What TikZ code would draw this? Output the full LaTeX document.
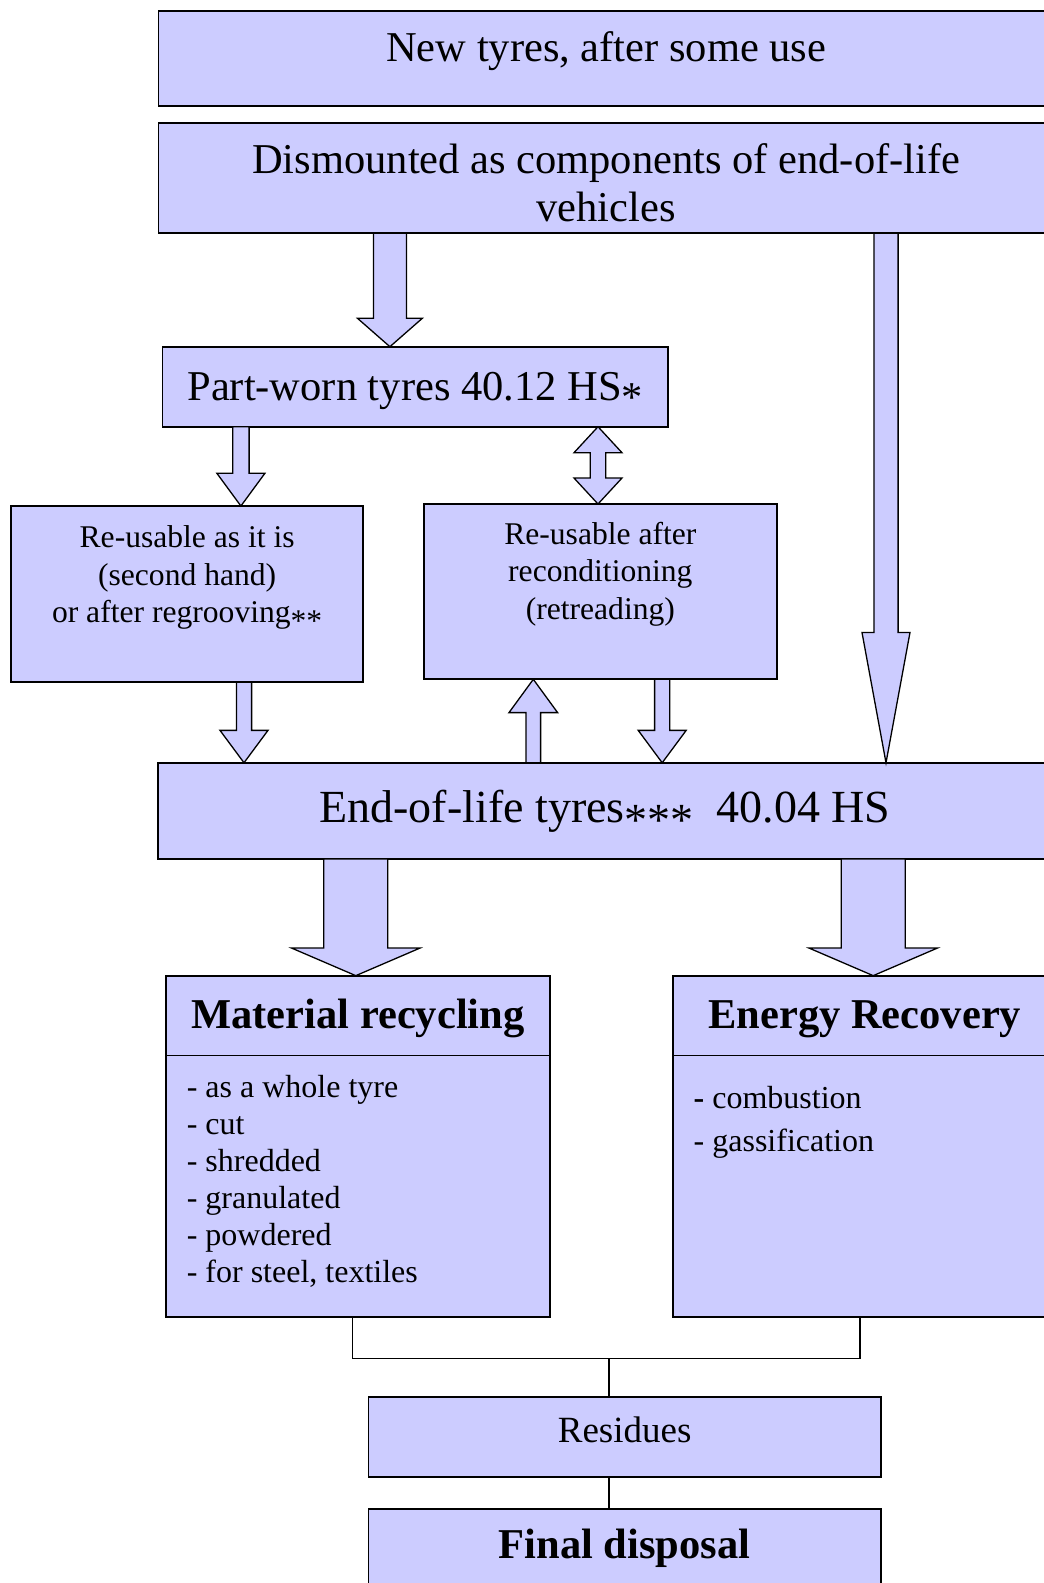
\documentclass[tikz,border=0pt]{standalone}
\usepackage{fontspec}
\setmainfont{Liberation Serif}
\usetikzlibrary{positioning,calc}

\definecolor{boxfill}{HTML}{CCCCFF}

\newcommand{\bigfont}{\fontsize{42.5pt}{48.4pt}\selectfont}
\newcommand{\eolfont}{\fontsize{46pt}{52pt}\selectfont}
\newcommand{\resfont}{\fontsize{37pt}{42pt}\selectfont}
\newcommand{\midfont}{\fontsize{31.6pt}{37.6pt}\selectfont}
\newcommand{\lowast}{\raisebox{-0.28em}{*}}

% block arrows: from, to, x, shaft half width, head half width, head length
\newcommand{\fatdown}[6]{%
  \draw[fat] let \p1=(#1.south), \p2=(#2.north) in
    (#3pt-#4pt,\y1) -- (#3pt-#4pt,\y2+#6pt) -- (#3pt-#5pt,\y2+#6pt) -- (#3pt,\y2)
    -- (#3pt+#5pt,\y2+#6pt) -- (#3pt+#4pt,\y2+#6pt) -- (#3pt+#4pt,\y1) -- cycle;}
\newcommand{\fatup}[6]{%
  \draw[fat] let \p1=(#1.north), \p2=(#2.south) in
    (#3pt-#4pt,\y1) -- (#3pt-#4pt,\y2-#6pt) -- (#3pt-#5pt,\y2-#6pt) -- (#3pt,\y2)
    -- (#3pt+#5pt,\y2-#6pt) -- (#3pt+#4pt,\y2-#6pt) -- (#3pt+#4pt,\y1) -- cycle;}
\newcommand{\fatboth}[6]{%
  \draw[fat] let \p1=(#1.south), \p2=(#2.north) in
    (#3pt,\y1) -- (#3pt+#5pt,\y1-#6pt) -- (#3pt+#4pt,\y1-#6pt) -- (#3pt+#4pt,\y2+#6pt)
    -- (#3pt+#5pt,\y2+#6pt) -- (#3pt,\y2) -- (#3pt-#5pt,\y2+#6pt) -- (#3pt-#4pt,\y2+#6pt)
    -- (#3pt-#4pt,\y1-#6pt) -- (#3pt-#5pt,\y1-#6pt) -- cycle;}

\tikzset{
  box/.style={draw, fill=boxfill, line width=1.8pt, inner sep=0pt, outer sep=0pt, align=flush center},
  fat/.style={draw, fill=boxfill, line width=1.3pt},
  link/.style={draw, line width=1.5pt},
}

\begin{document}
\begin{tikzpicture}[x=1pt, y=-1pt]
  \useasboundingbox (0,0) rectangle (1044,1583);
  \clip (0,0) rectangle (1044,1583);

  % Where the tyres come from
  \node[box, font=\bigfont, minimum width=895.5pt, minimum height=95.3pt, text height=30pt, text depth=23.3pt] (newtyres) at (606.25,58.35) {New tyres, after some use};
  \node[box, font=\bigfont, text width=880pt, minimum width=895.5pt, minimum height=110.6pt, text height=30pt, text depth=39.4pt] (dismounted) at (606.25,178) {Dismounted as components of end-of-life\\vehicles};

  % Part-worn tyres and re-use
  \node[box, font=\bigfont, minimum width=505.4pt, minimum height=80pt, text height=30pt, text depth=3.4pt] (partworn) at (415.2,386.7) {Part-worn tyres 40.12 HS\lowast};
  \node[box, font=\midfont, text width=340pt, minimum width=352.3pt, minimum height=176.3pt, text height=22pt, text depth=114.9pt] (reuse) at (187.15,594.15) {Re-usable as it is\\(second hand)\\or after regrooving\lowast\lowast};
  \node[box, font=\midfont, text width=340pt, minimum width=352.7pt, minimum height=175.3pt, text height=22pt, text depth=116.7pt] (recond) at (600.35,591.65) {Re-usable after\\reconditioning\\(retreading)};

  % End-of-life tyres
  \node[box, font=\eolfont, minimum width=894.4pt, minimum height=96.3pt, text height=33pt, text depth=10.2pt] (eol) at (605,810.9) {End-of-life tyres\lowast\lowast\lowast\ \ 40.04 HS};

  % Recovery routes
  \node[box, font=\bigfont\bfseries, minimum width=384.6pt, minimum height=79.9pt, text height=30pt, text depth=5.2pt] (mathead) at (357.9,1015.6) {Material recycling};
  \node[box, font={\fontsize{32pt}{37pt}\selectfont}, below=0pt of mathead, text width=342.2pt, align=flush left, minimum width=384.6pt, minimum height=261.1pt, text height=22pt, text depth=200.1pt] (matbody) {- as a whole tyre\\- cut\\- shredded\\- granulated\\- powdered\\- for steel, textiles};
  \node[box, font=\bigfont\bfseries, minimum width=384.4pt, minimum height=79.9pt, text height=30pt, text depth=5.2pt] (enhead) at (864.8,1015.6) {Energy Recovery};
  \node[box, font={\fontsize{32pt}{42.7pt}\selectfont}, below=0pt of enhead, text width=342.2pt, align=flush left, minimum width=384.4pt, minimum height=261.1pt, text height=22pt, text depth=176.7pt] (enbody) {\textbf{-} combustion\\- gassification};

  % Disposal
  \node[box, font=\resfont, minimum width=512.5pt, minimum height=80.6pt, text height=26pt, text depth=14.6pt] (residues) at (624.65,1437) {Residues};
  \node[box, font=\bigfont\bfseries, minimum width=512.5pt, minimum height=80pt, text height=30pt, text depth=11.4pt] (final) at (624.65,1549) {Final disposal};

  % Block arrows
  \fatdown{dismounted}{partworn}{389.9}{16.5}{32.4}{28.4}
  \fatdown{dismounted}{eol}{886}{12.1}{24}{130.3}
  \fatdown{partworn}{reuse}{240.9}{8.2}{24}{32.7}
  \fatboth{partworn}{recond}{598}{7.8}{24}{26}
  \fatdown{reuse}{eol}{244}{7.6}{24}{32.4}
  \fatup{eol}{recond}{533.3}{7.3}{24.3}{33.3}
  \fatdown{recond}{eol}{662.2}{7.6}{24}{32.4}
  \foreach \tgt/\xpos in {mathead/355.8, enhead/873.2} {
    \fatdown{eol}{\tgt}{\xpos}{32}{64.2}{27.6}
  }

  % Residue lines
  \coordinate (merge) at (609,1358.3);
  \draw[link] ([xshift=-5.5pt]matbody.south) |- (merge) -| ([xshift=-5pt]enbody.south);
  \draw[link] (merge) -- (merge |- residues.north);
  \draw[link] (merge |- residues.south) -- (merge |- final.north);
\end{tikzpicture}
\end{document}
